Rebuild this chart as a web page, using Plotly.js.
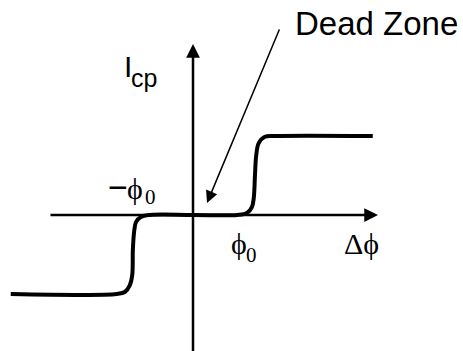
<!DOCTYPE html>
<html>
<head>
<meta charset="utf-8">
<script src="https://cdn.plot.ly/plotly-3.0.1.min.js"></script>
<style>
  html, body { margin: 0; padding: 0; background: #fff; }
  #chart { width: 463px; height: 351px; }
</style>
</head>
<body>
<div id="chart"></div>
<script>
// phase error (units of phi0) vs charge pump current (units of Icp)
var phaseX = [-2.94, -1.23, -1.10, -1.02, -0.98, -0.97, -0.95, -0.92, -0.84, -0.69,
  0, 0.71, 0.87, 0.95, 0.98, 1.0, 1.02, 1.06, 1.16, 1.32, 2.90];
var currentY = [-1, -1, -0.975, -0.89, -0.76, -0.44, -0.215, -0.09, -0.025, 0,
  0, 0, 0.025, 0.10, 0.215, 0.51, 0.76, 0.91, 0.99, 1, 1];

var curve = {
  x: phaseX,
  y: currentY,
  type: 'scatter',
  mode: 'lines',
  line: {color: '#000', width: 4, shape: 'spline', smoothing: 1},
  hoverinfo: 'skip'
};

var serif = 'Liberation Serif, Times New Roman, serif';
var sans = 'Liberation Sans, Arial, sans-serif';

function label(x, y, text, family, size) {
  return {
    x: x, y: y, xref: 'x', yref: 'y', text: text, showarrow: false,
    xanchor: 'left', yanchor: 'middle',
    font: {family: family, size: size, color: '#000'}
  };
}

function arrow(x0, y0, x1, y1, w, head, size) {
  return {
    x: x1, y: y1, ax: x0, ay: y0, xref: 'x', yref: 'y', axref: 'x', ayref: 'y',
    text: '', showarrow: true, arrowhead: head, arrowsize: size,
    arrowwidth: w, arrowcolor: '#000', standoff: 0, startstandoff: 0
  };
}

var layout = {
  width: 463,
  height: 351,
  margin: {l: 0, r: 0, t: 0, b: 0},
  paper_bgcolor: '#fff',
  plot_bgcolor: '#fff',
  showlegend: false,
  xaxis: {range: [-3.113, 4.355], visible: false, fixedrange: true},
  yaxis: {range: [-1.7215, 2.7215], visible: false, fixedrange: true},
  annotations: [
    arrow(-2.323, 0, 2.984, 0, 2.5, 2, 1.1),
    arrow(0, -1.75, 0, 2.165, 2.5, 2, 1.1),
    arrow(1.403, 2.367, 0.226, 0.152, 1.5, 2, 1.6),
    label(1.62, 2.418, 'Dead Zone', sans, 33),
    label(-1.145, 1.886, 'I', sans, 30),
    label(-1.03, 1.74, 'cp', sans, 25),
    label(-1.40, 0.36, '−', sans, 34),
    label(-1.10, 0.34, 'ϕ', serif, 30),
    label(-0.80, 0.23, '0', serif, 21),
    label(0.58, -0.36, 'ϕ', serif, 30),
    label(0.82, -0.50, '0', serif, 21),
    label(2.40, -0.36, 'Δϕ', serif, 30)
  ]
};

Plotly.newPlot('chart', [curve], layout, {staticPlot: true, displayModeBar: false});
</script>
</body>
</html>
